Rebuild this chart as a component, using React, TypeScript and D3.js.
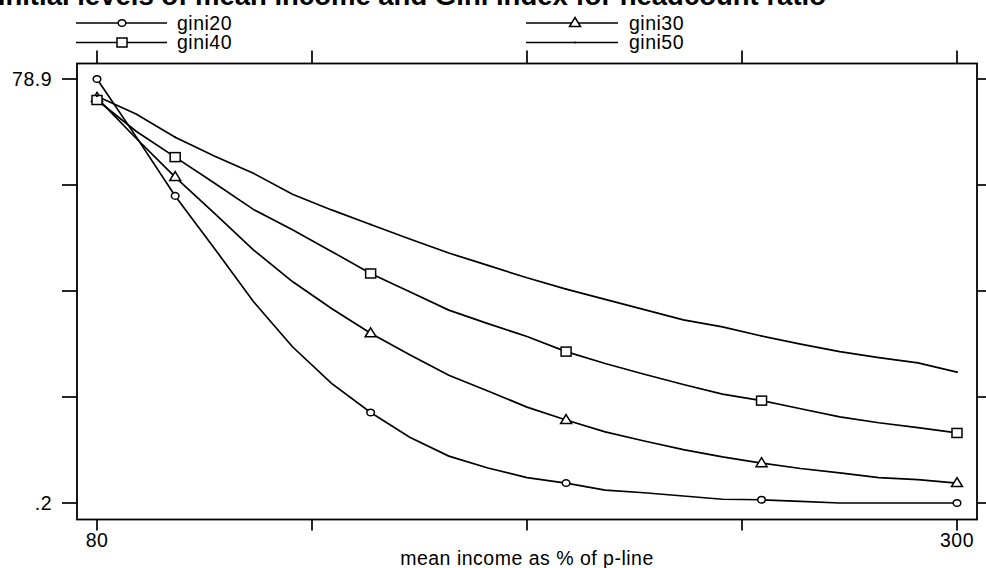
import React from "react";
import * as d3 from "d3";

const xValues = [80, 90, 100, 110, 120, 130, 140, 150, 160, 170, 180, 190, 200, 210, 220, 230, 240, 250, 260, 270, 280, 290, 300];
const gini20 = [78.9, 68.2, 57.2, 47.5, 37.6, 29.2, 22.4, 17.0, 12.4, 8.9, 6.7, 4.9, 3.9, 2.6, 2.1, 1.5, 0.9, 0.8, 0.5, 0.2, 0.2, 0.2, 0.2];
const gini30 = [75.4, 67.9, 60.7, 54.0, 47.2, 41.3, 36.3, 31.7, 27.7, 23.9, 21.0, 18.0, 15.6, 13.4, 11.7, 10.1, 8.75, 7.6, 6.6, 5.8, 4.9, 4.55, 3.9];
const gini40 = [75.0, 69.2, 64.4, 59.6, 54.7, 50.9, 46.9, 42.8, 39.4, 36.0, 33.5, 31.1, 28.3, 26.1, 24.1, 22.2, 20.4, 19.2, 17.7, 16.2, 15.1, 14.2, 13.2];
const gini50 = [75.7, 72.4, 68.1, 64.6, 61.4, 57.5, 54.6, 51.9, 49.2, 46.6, 44.3, 42.0, 39.9, 38.0, 36.1, 34.2, 32.9, 31.2, 29.7, 28.3, 27.2, 26.2, 24.5];
const markerX = [80, 100, 150, 200, 250, 300];
const seriesNames = ["gini20", "gini30", "gini40", "gini50"];
const seriesSymbols = ["circle", "triangle", "square", "dot"];
const xTicks = [80, 135, 190, 245, 300];
const xTickLabels = ["80", "", "", "", "300"];
const yTicks = [0.2, 19.875, 39.55, 59.225, 78.9];
const yTickLabels = [".2", "", "", "", "78.9"];
const titleText = "Initial levels of mean income and Gini index for headcount ratio";
const xAxisTitle = "mean income as % of p-line";

const W = 986, H = 568;
const L = 77, R = 977, T = 63.5, B = 519.5;
const FONT = "'Liberation Sans', Arial, Helvetica, sans-serif";
const FS = 19.5;
const LS = 0.5;

function Marker({ kind, cx, cy }: { kind: string; cx: number; cy: number }) {
  const sw = 1.5;
  if (kind === "circle") return <ellipse cx={cx} cy={cy} rx={3.8} ry={3.3} fill="white" stroke="black" strokeWidth={sw} />;
  if (kind === "square") return <rect x={cx - 5} y={cy - 4.5} width={10} height={9} fill="white" stroke="black" strokeWidth={sw} />;
  if (kind === "triangle") return <path d={`M${cx},${cy - 5.5}L${cx + 5.5},${cy + 3.5}L${cx - 5.5},${cy + 3.5}Z`} fill="white" stroke="black" strokeWidth={sw} />;
  return <circle cx={cx} cy={cy} r={1} fill="black" />;
}

export default function App() {
  const x = d3.scaleLinear().domain([80, 300]).range([97, 957]);
  const y = d3.scaleLinear().domain([0.2, 78.9]).range([503, 79]);
  const all = [gini20, gini30, gini40, gini50];
  const line = d3.line<[number, number]>().x((d) => x(d[0])).y((d) => y(d[1]));

  const legendPos = [
    { lx1: 76, lx2: 167, mx: 122, tx: 177, y: 23 },
    { lx1: 526, lx2: 618, mx: 575, tx: 629, y: 23 },
    { lx1: 76, lx2: 167, mx: 122, tx: 177, y: 42.5 },
    { lx1: 526, lx2: 618, mx: 575, tx: 629, y: 42.5 },
  ];

  return (
    <svg width={W} height={H} style={{ position: "absolute", left: 0, top: 0, background: "white" }} fontFamily={FONT}>
      <rect x={0} y={0} width={W} height={H} fill="white" />
      <text x={826} y={5} textAnchor="end" fontWeight="bold" fontSize={27.5}>{titleText}</text>

      {seriesNames.map((name, i) => {
        const p = legendPos[i];
        return (
          <g key={name}>
            <line x1={p.lx1} x2={p.lx2} y1={p.y} y2={p.y} stroke="black" strokeWidth={1.7} />
            <Marker kind={seriesSymbols[i]} cx={p.mx} cy={p.y} />
            <text x={p.tx} y={p.y} dy="0.35em" fontSize={FS} letterSpacing={LS}>{name}</text>
          </g>
        );
      })}

      <rect x={L} y={T} width={R - L} height={B - T} fill="none" stroke="black" strokeWidth={1.8} />

      {xTicks.map((t, i) => (
        <g key={"xt" + i}>
          <line x1={x(t)} x2={x(t)} y1={B} y2={B + 11} stroke="black" strokeWidth={1.7} />
          <line x1={x(t)} x2={x(t)} y1={T} y2={T - 13} stroke="black" strokeWidth={1.7} />
          {xTickLabels[i] && (
            <text x={x(t)} y={546.5} textAnchor="middle" fontSize={FS} letterSpacing={LS}>{xTickLabels[i]}</text>
          )}
        </g>
      ))}
      {yTicks.map((t, i) => (
        <g key={"yt" + i}>
          <line x1={L} x2={L - 15} y1={y(t)} y2={y(t)} stroke="black" strokeWidth={1.7} />
          <line x1={R} x2={R + 15} y1={y(t)} y2={y(t)} stroke="black" strokeWidth={1.7} />
          {yTickLabels[i] && (
            <text x={52} y={y(t)} dy="0.35em" textAnchor="end" fontSize={FS} letterSpacing={LS}>{yTickLabels[i]}</text>
          )}
        </g>
      ))}
      <text x={(L + R) / 2} y={565} textAnchor="middle" fontSize={FS} letterSpacing={LS}>{xAxisTitle}</text>

      {all.map((vals, si) => (
        <path key={"l" + si} d={line(xValues.map((xv, k) => [xv, vals[k]] as [number, number])) || ""} fill="none" stroke="black" strokeWidth={1.7} />
      ))}
      {all.map((vals, si) =>
        markerX.map((mx) => {
          const k = xValues.indexOf(mx);
          return <Marker key={"m" + si + "-" + mx} kind={seriesSymbols[si]} cx={x(mx)} cy={y(vals[k])} />;
        })
      )}
    </svg>
  );
}
